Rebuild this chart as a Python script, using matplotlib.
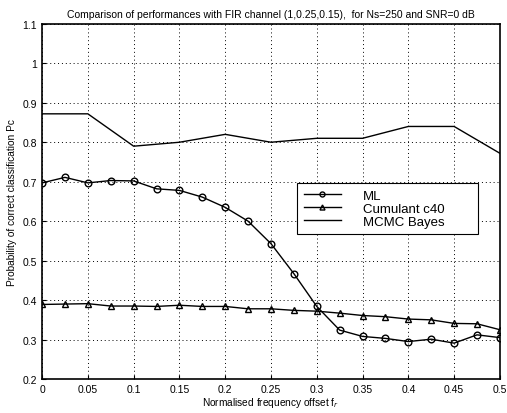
import numpy as np
import matplotlib
matplotlib.use('Agg')
from matplotlib import pyplot as plt

plt.rcParams['font.family'] = ['Liberation Sans', 'DejaVu Sans']

f_fine = [0, 0.025, 0.05, 0.075, 0.1, 0.125, 0.15, 0.175, 0.2, 0.225, 0.25,
          0.275, 0.3, 0.325, 0.35, 0.375, 0.4, 0.425, 0.45, 0.475, 0.5]
ml = [0.697, 0.711, 0.697, 0.703, 0.702, 0.682, 0.678, 0.661, 0.635, 0.600, 0.543,
      0.467, 0.384, 0.324, 0.308, 0.303, 0.295, 0.301, 0.291, 0.312, 0.305]
c40 = [0.389, 0.390, 0.391, 0.385, 0.385, 0.384, 0.387, 0.384, 0.384, 0.378, 0.378,
       0.374, 0.372, 0.367, 0.361, 0.358, 0.352, 0.350, 0.341, 0.340, 0.325]

f_coarse = [0, 0.05, 0.1, 0.15, 0.2, 0.25, 0.3, 0.35, 0.4, 0.45, 0.5]
mcmc = [0.872, 0.872, 0.790, 0.800, 0.820, 0.800, 0.810, 0.810, 0.840, 0.840, 0.772]

xticks = [0, 0.05, 0.1, 0.15, 0.2, 0.25, 0.3, 0.35, 0.4, 0.45, 0.5]
yticks = [0.2, 0.3, 0.4, 0.5, 0.6, 0.7, 0.8, 0.9, 1, 1.1]

fig = plt.figure(figsize=(5.07, 4.14), dpi=100)
ax = fig.add_axes([0.083, 0.082, 0.903, 0.858])

ax.plot(f_fine, ml, 'k-', marker='o', mfc='none', ms=4.8, lw=1, label='ML')
ax.plot(f_fine, c40, 'k-', marker='^', mfc='none', ms=4.8, lw=1, label='Cumulant c40')
ax.plot(f_coarse, mcmc, 'k-', lw=1, label='MCMC Bayes')

ax.set_xlim(0, 0.5)
ax.set_ylim(0.2, 1.1)
ax.set_xticks(xticks)
ax.set_xticklabels(['0'] + [str(v) for v in xticks[1:]])
ax.set_yticks(yticks)
ax.set_yticklabels([str(v) for v in yticks])
ax.tick_params(direction='in', labelsize=7.5, length=3, colors='black')
ax.grid(True, color='black', linestyle=(0, (1, 3)), linewidth=0.7)
for s in ax.spines.values():
    s.set_linewidth(1.2)

ax.set_title('Comparison of performances with FIR channel (1,0.25,0.15),  for Ns=250 and SNR=0 dB',
             fontsize=7.5, pad=5)
ax.set_xlabel('Normalised frequency offset f$_r$', fontsize=7.3, labelpad=1)
ax.set_ylabel('Probability of correct classification Pc', fontsize=7.3, labelpad=4)

leg = ax.legend(loc='lower left', bbox_to_anchor=(0.557, 0.408, 0.395, 0.17), mode='expand',
                fontsize=9.5, handlelength=2.8, markerscale=0.75, fancybox=False,
                edgecolor='black', framealpha=1, borderaxespad=0, borderpad=0.5,
                labelspacing=0.05, handletextpad=1.7)
leg.get_frame().set_linewidth(0.8)

plt.savefig('out.png', dpi=100)
